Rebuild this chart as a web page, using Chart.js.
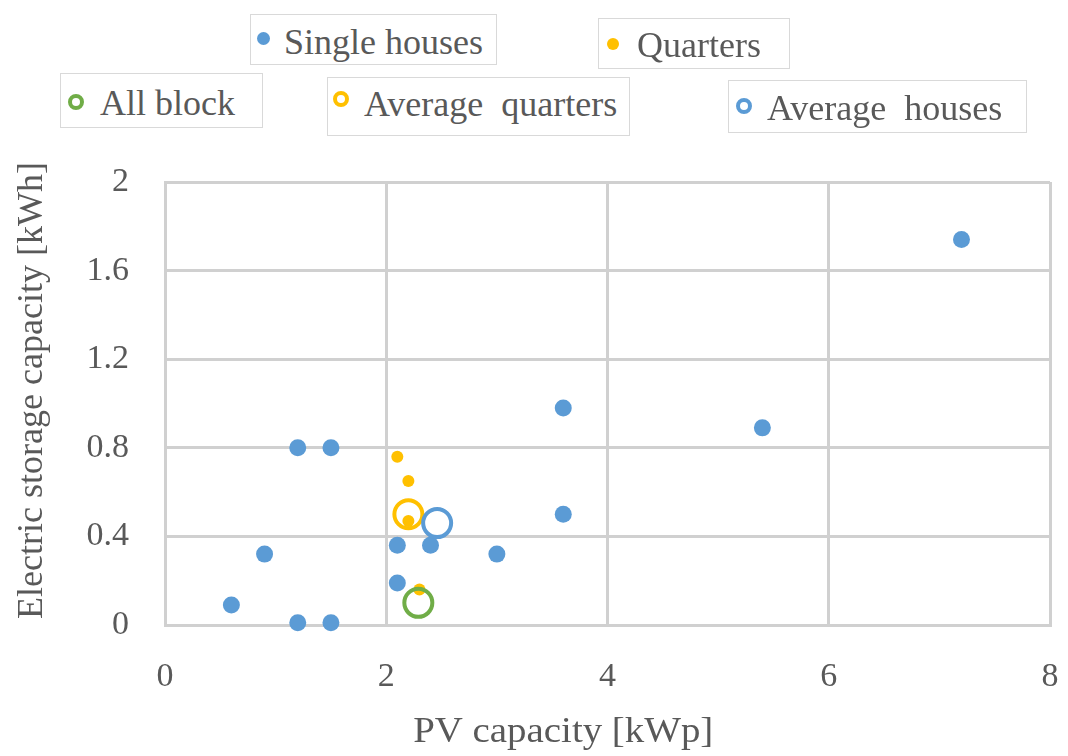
<!DOCTYPE html>
<html>
<head>
<meta charset="utf-8">
<script src="https://cdn.jsdelivr.net/npm/chart.js@4/dist/chart.umd.min.js"></script>
<style>
  html, body { margin: 0; padding: 0; background: #ffffff; }
  #wrap { position: relative; width: 1068px; height: 756px; }
  #chart { position: absolute; left: 0; top: 0; }
  .lg {
    position: absolute; box-sizing: border-box;
    border: 1.5px solid #d9d9d9; background: #ffffff;
    font-family: "Liberation Serif", "Times New Roman", Times, serif;
    font-size: 36px; color: #595959; white-space: nowrap;
  }
  .lg .mk { position: absolute; border-radius: 50%; box-sizing: border-box; }
  .lg .tx { position: absolute; line-height: 1; }
</style>
</head>
<body>
<div id="wrap">
  <canvas id="chart" width="1068" height="756"></canvas>

  <div class="lg" style="left:250px;top:14px;width:247px;height:51px;">
    <span class="mk" style="left:6px;top:17px;width:13px;height:13px;background:#5b9bd5;"></span>
    <span class="tx" style="left:33px;top:9px;">Single houses</span>
  </div>
  <div class="lg" style="left:598px;top:18px;width:192px;height:51px;">
    <span class="mk" style="left:8px;top:19px;width:12px;height:12px;background:#ffc000;"></span>
    <span class="tx" style="left:38px;top:8px;">Quarters</span>
  </div>
  <div class="lg" style="left:60px;top:73px;width:203px;height:55px;">
    <span class="mk" style="left:7px;top:20px;width:16px;height:16px;border:4px solid #70ad47;"></span>
    <span class="tx" style="left:39px;top:11px;">All block</span>
  </div>
  <div class="lg" style="left:327px;top:77px;width:303px;height:59px;">
    <span class="mk" style="left:5px;top:13px;width:16px;height:16px;border:4px solid #ffc000;"></span>
    <span class="tx" style="left:36px;top:8px;word-spacing:9px;">Average quarters</span>
  </div>
  <div class="lg" style="left:728px;top:80px;width:299px;height:53px;">
    <span class="mk" style="left:7px;top:17px;width:16px;height:16px;border:4px solid #5b9bd5;"></span>
    <span class="tx" style="left:38px;top:9px;word-spacing:9px;">Average houses</span>
  </div>
</div>

<script>
// PV capacity [kWp] and electric storage capacity [kWh] per unit
const houseX = [0.6, 0.9, 1.2, 1.5, 1.2, 1.5, 2.1, 2.1, 2.4, 3.0, 3.6, 3.6, 5.4, 7.2];
const houseY = [0.09, 0.32, 0.80, 0.80, 0.01, 0.01, 0.36, 0.19, 0.36, 0.32, 0.98, 0.50, 0.89, 1.74];

const quarterX = [2.1, 2.2, 2.2, 2.3];
const quarterY = [0.76, 0.65, 0.47, 0.16];

const allBlockX = [2.29];
const allBlockY = [0.10];

const avgQuarterX = [2.2];
const avgQuarterY = [0.50];

const avgHouseX = [2.46];
const avgHouseY = [0.46];

const xTickLabels = ['0', '2', '4', '6', '8'];
const yTickLabels = ['0', '0.4', '0.8', '1.2', '1.6', '2'];

const xTitle = 'PV capacity [kWp]';
const yTitle = 'Electric storage capacity [kWh]';

const pts = (xs, ys) => xs.map((x, i) => ({ x: x, y: ys[i] }));

const FONT = '"Liberation Serif", "Times New Roman", Times, serif';
const TEXT = '#595959';
const GRID = '#d0d0d0';

// Axis titles sit a little off the plot centre, so they are drawn here
const axisTitles = {
  id: 'axisTitles',
  afterDraw(chart) {
    const { ctx, chartArea: a } = chart;
    ctx.save();
    ctx.fillStyle = TEXT;
    ctx.font = '36px ' + FONT;
    ctx.textAlign = 'center';
    ctx.textBaseline = 'middle';
    ctx.save();
    ctx.translate(a.left + (a.right - a.left) * 0.45, a.bottom + 108);
    ctx.scale(1.08, 1);
    ctx.fillText(xTitle, 0, 0);
    ctx.restore();
    ctx.save();
    ctx.translate(33, (a.top + a.bottom) / 2 - 13);
    ctx.rotate(-Math.PI / 2);
    ctx.fillText(yTitle, 0, 0);
    ctx.restore();
    ctx.restore();
  }
};

new Chart(document.getElementById('chart'), {
  type: 'scatter',
  data: {
    datasets: [
      {
        label: 'Single houses', data: pts(houseX, houseY), order: 5,
        pointRadius: 8.5, pointBackgroundColor: '#5b9bd5', pointBorderWidth: 0
      },
      {
        label: 'Average quarters', data: pts(avgQuarterX, avgQuarterY), order: 4,
        pointRadius: 14, pointBackgroundColor: 'rgba(255,255,255,0)',
        pointBorderColor: '#ffc000', pointBorderWidth: 4
      },
      {
        label: 'Quarters', data: pts(quarterX, quarterY), order: 3,
        pointRadius: 6, pointBackgroundColor: '#ffc000', pointBorderWidth: 0
      },
      {
        label: 'Average houses', data: pts(avgHouseX, avgHouseY), order: 2,
        pointRadius: 14, pointBackgroundColor: '#ffffff',
        pointBorderColor: '#5b9bd5', pointBorderWidth: 4
      },
      {
        label: 'All block', data: pts(allBlockX, allBlockY), order: 1,
        pointRadius: 14, pointBackgroundColor: 'rgba(255,255,255,0)',
        pointBorderColor: '#70ad47', pointBorderWidth: 4
      }
    ]
  },
  options: {
    responsive: false,
    animation: false,
    clip: false,
    layout: { padding: { top: 182, right: 16, bottom: 0, left: 0 } },
    plugins: { legend: { display: false }, tooltip: { enabled: false } },
    scales: {
      x: {
        type: 'linear', min: 0, max: 8,
        afterFit: s => { s.height = 131; s.paddingLeft = 0; s.paddingRight = 0; },
        grid: { color: GRID, lineWidth: 3, drawTicks: false },
        border: { color: GRID, width: 3 },
        ticks: {
          stepSize: 2, padding: 32, color: TEXT,
          font: { family: FONT, size: 34 },
          callback: (v, i) => xTickLabels[i]
        }
      },
      y: {
        type: 'linear', min: 0, max: 2,
        afterFit: s => { s.width = 165; },
        grid: { color: GRID, lineWidth: 3, drawTicks: false },
        border: { color: GRID, width: 3 },
        ticks: {
          stepSize: 0.4, padding: 36, color: TEXT,
          font: { family: FONT, size: 34 },
          callback: (v, i) => yTickLabels[i]
        }
      }
    }
  },
  plugins: [axisTitles]
});
</script>
</body>
</html>
